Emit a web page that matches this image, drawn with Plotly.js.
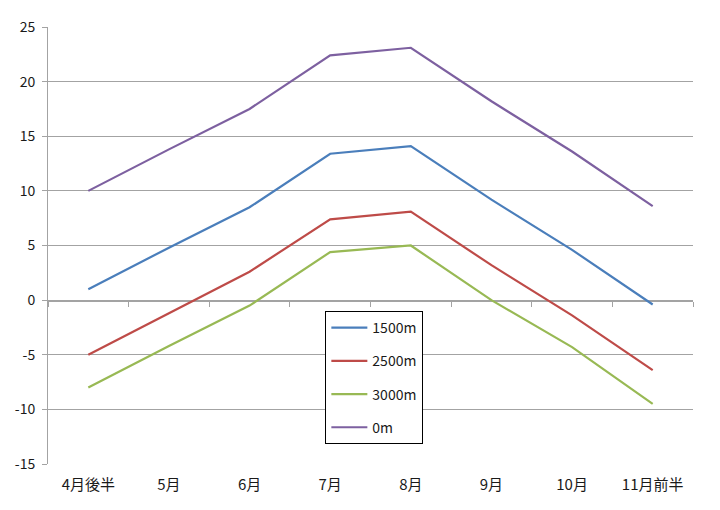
<!DOCTYPE html>
<html>
<head>
<meta charset="utf-8">
<script src="https://cdn.plot.ly/plotly-3.0.1.min.js"></script>
<style>
  body { margin: 0; background: #fff; }
  #chart { width: 720px; height: 510px; }
</style>
</head>
<body>
<div id="chart"></div>
<script>
const months = ['4月後半', '5月', '6月', '7月', '8月', '9月', '10月', '11月前半'];

const alt1500 = [1.0, 4.8, 8.5, 13.4, 14.1, 9.2, 4.6, -0.4];
const alt2500 = [-5.0, -1.2, 2.6, 7.4, 8.1, 3.2, -1.4, -6.4];
const alt3000 = [-8.0, -4.2, -0.5, 4.4, 5.0, 0.0, -4.3, -9.5];
const alt0 = [10.0, 13.8, 17.5, 22.4, 23.1, 18.2, 13.6, 8.6];

const seriesNames = ['1500m', '2500m', '3000m', '0m'];
const seriesColors = ['#4A7EBB', '#BE4B48', '#98B954', '#7D60A0'];

const yTickVals = [-15, -10, -5, 0, 5, 10, 15, 20, 25];
const yTickText = ['-15', '-10', '-5', '0', '5', '10', '15', '20', '25'];

const FONT = '"Noto Sans CJK JP", "Open Sans", sans-serif';
const GRID = '#A3A3A3';

const allSeries = [alt1500, alt2500, alt3000, alt0];
var traces = [];
for (var i = 0; i < allSeries.length; i++) {
  traces.push({
    x: months,
    y: allSeries[i],
    name: seriesNames[i],
    legendgroup: seriesNames[i],
    type: 'scatter',
    mode: 'lines',
    line: {color: seriesColors[i], width: 2.2},
    hoverinfo: 'skip'
  });
}
// empty trace so the overlaying x2 axis (the one drawn at y = 0) gets built
traces.push({x: [], y: [], xaxis: 'x2', type: 'scatter', mode: 'lines', showlegend: false, hoverinfo: 'skip'});

// y = 0 sits at this fraction of the plot height, the category axis is drawn there
const yMin = yTickVals[0], yMax = yTickVals[yTickVals.length - 1];
const zeroPos = (0 - yMin) / (yMax - yMin);

let layout = {
  width: 720,
  height: 510,
  margin: {l: 48, r: 27, t: 27, b: 46},
  paper_bgcolor: '#fff',
  plot_bgcolor: '#fff',
  font: {family: FONT, size: 14, color: '#1a1a1a'},
  showlegend: true,
  legend: {
    x: 0.43, y: 0.35, xanchor: 'left', yanchor: 'top',
    bgcolor: '#fff',
    bordercolor: '#000',
    borderwidth: 1,
    font: {family: FONT, size: 14, color: '#1a1a1a'},
    tracegroupgap: 12,
    itemwidth: 36,
    entrywidth: 113
  },
  xaxis: {
    type: 'category',
    categoryorder: 'array',
    categoryarray: months,
    range: [-0.5, months.length - 0.5],
    showgrid: false,
    zeroline: false,
    showline: false,
    ticks: '',
    tickfont: {family: FONT, size: 15, color: '#1a1a1a'},
    ticklabelstandoff: 10,
    fixedrange: true
  },
  xaxis2: {
    type: 'linear',
    overlaying: 'x',
    anchor: 'free',
    position: zeroPos,
    side: 'bottom',
    layer: 'below traces',
    range: [-0.5, months.length - 0.5],
    tick0: -0.5,
    dtick: 1,
    showline: true,
    linecolor: GRID,
    linewidth: 1.5,
    ticks: 'outside',
    ticklen: 5,
    tickcolor: GRID,
    showticklabels: false,
    showgrid: false,
    zeroline: false,
    fixedrange: true
  },
  yaxis: {
    range: [yMin, yMax],
    tickvals: yTickVals,
    ticktext: yTickText,
    showgrid: true,
    gridcolor: GRID,
    gridwidth: 1,
    zeroline: false,
    showline: true,
    linecolor: GRID,
    ticks: 'outside',
    ticklen: 5,
    tickcolor: GRID,
    ticklabelstandoff: 4,
    layer: 'below traces',
    fixedrange: true
  }
};

Plotly.newPlot('chart', traces, layout, {displayModeBar: false, staticPlot: true});
</script>
</body>
</html>
